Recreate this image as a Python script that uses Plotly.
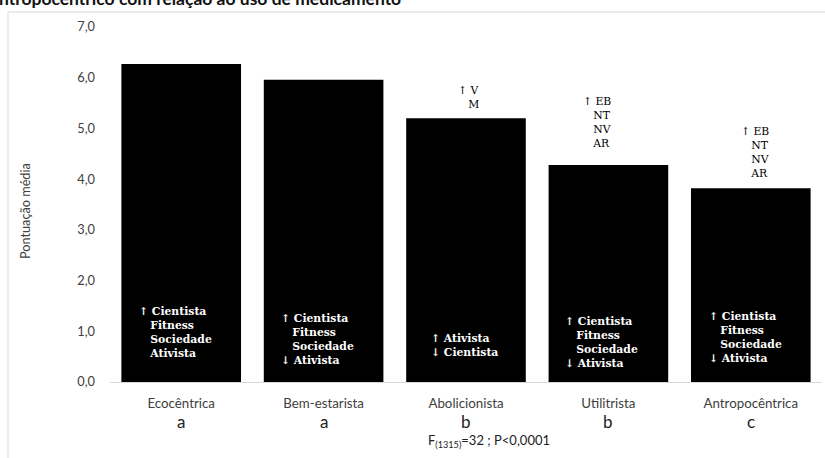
import plotly.graph_objects as go

# ---- data ----
categories = ["Ecocêntrica", "Bem-estarista", "Abolicionista", "Utilitrista", "Antropocêntrica"]
mean_scores = [6.27, 5.96, 5.20, 4.28, 3.82]
group_letters = ["a", "a", "b", "b", "c"]
inner_labels = [
    "↑ Cientista<br>\u00a0\u00a0\u00a0Fitness<br>\u00a0\u00a0\u00a0Sociedade<br>\u00a0\u00a0\u00a0Ativista",
    "↑ Cientista<br>\u00a0\u00a0\u00a0Fitness<br>\u00a0\u00a0\u00a0Sociedade<br>↓ Ativista",
    "↑ Ativista<br>↓ Cientista",
    "↑ Cientista<br>\u00a0\u00a0\u00a0Fitness<br>\u00a0\u00a0\u00a0Sociedade<br>↓ Ativista",
    "↑ Cientista<br>\u00a0\u00a0\u00a0Fitness<br>\u00a0\u00a0\u00a0Sociedade<br>↓ Ativista",
]
top_labels = [
    "",
    "",
    "↑ V<br>\u00a0\u00a0\u00a0M",
    "↑ EB<br>\u00a0\u00a0\u00a0NT<br>\u00a0\u00a0\u00a0NV<br>\u00a0\u00a0\u00a0AR",
    "↑ EB<br>\u00a0\u00a0\u00a0NT<br>\u00a0\u00a0\u00a0NV<br>\u00a0\u00a0\u00a0AR",
]
stat_text = "F<sub>(1315)</sub>=32 ; P&lt;0,0001"
y_title = "Pontuação média"
title_text = "antropocêntrico com relação ao uso de medicamento"

# ---- placement (layout only) ----
inner_y = [1.55, 1.42, 1.02, 1.37, 1.45]
inner_dx = [-44, -45, -37, -45, -44]
top_y = [0, 0, 5.91, 5.70, 5.10]
top_dx = [0, 0, -10, -27, -12]

W, H = 825, 458
L, R, T, B = 110, 3, 27, 76
pw, ph = W - L - R, H - T - B

def px_x(p):
    return (p - L) / pw

def px_y(p):
    return (H - B - p) / ph

fig = go.Figure(go.Bar(
    x=categories, y=mean_scores,
    marker=dict(color="black", line=dict(width=0)),
    width=0.84,
))

ann = []
for i, c in enumerate(categories):
    ann.append(dict(x=c, y=inner_y[i], xref="x", yref="y", xanchor="left", yanchor="top",
                    xshift=inner_dx[i], text=inner_labels[i], showarrow=False, align="left",
                    font=dict(family="DejaVu Serif", size=10.8, color="white", weight="bold")))
    if top_labels[i]:
        ann.append(dict(x=c, y=top_y[i], xref="x", yref="y", xanchor="left", yanchor="top",
                        xshift=top_dx[i], text=top_labels[i], showarrow=False, align="left",
                        font=dict(family="DejaVu Serif", size=10.8, color="black")))
    ann.append(dict(x=c, y=px_y(421), xref="x", yref="paper", xanchor="center", yanchor="middle",
                    text=group_letters[i], showarrow=False,
                    font=dict(family="Lato", size=17, color="#222222")))

ann.append(dict(x=px_x(489), y=px_y(441), xref="paper", yref="paper", xanchor="center",
                yanchor="middle", text=stat_text, showarrow=False,
                font=dict(family="Lato", size=13, color="#222222")))
ann.append(dict(x=px_x(25), y=px_y(211), xref="paper", yref="paper", xanchor="center",
                yanchor="middle", text=y_title, textangle=-90, showarrow=False,
                font=dict(family="Lato", size=12.7, color="#404040")))
ann.append(dict(x=px_x(403), y=px_y(10.5), xref="paper", yref="paper", xanchor="right",
                yanchor="bottom", text=title_text, showarrow=False,
                font=dict(family="Lato", size=17.5, color="#111111", weight="bold")))

fig.update_layout(
    width=W, height=H,
    margin=dict(l=L, r=R, t=T, b=B, pad=0),
    paper_bgcolor="white", plot_bgcolor="white",
    separators=",.",
    showlegend=False,
    bargap=0.16,
    annotations=ann,
    shapes=[dict(type="rect", xref="paper", yref="paper",
                 x0=px_x(8), x1=px_x(830), y0=px_y(470), y1=px_y(12),
                 line=dict(color="#d9d9d9", width=1), layer="below")],
    xaxis=dict(showline=True, linecolor="#d9d9d9", linewidth=1, ticks="",
               showgrid=False, tickfont=dict(family="Lato", size=13.3, color="#404040"),
               ticklabelstandoff=9),
    yaxis=dict(range=[0, 7], dtick=1, tickformat=".1f", showgrid=False, zeroline=False,
               showline=False, ticks="", ticklabelstandoff=14,
               tickfont=dict(family="Lato", size=12.8, color="#404040")),
)

fig.write_html("out.html", config={"displayModeBar": False},
               post_script="document.body.style.margin='0';")
